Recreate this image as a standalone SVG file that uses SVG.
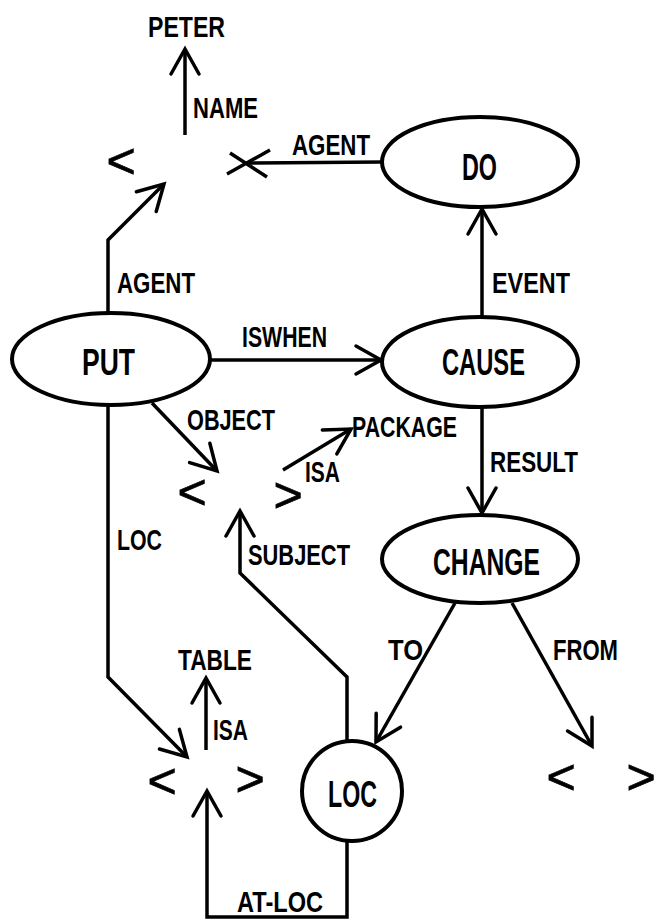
<svg xmlns="http://www.w3.org/2000/svg" width="655" height="921" viewBox="0 0 655 921">
<style>
.bg{fill:#fff}
.ln{fill:none;stroke:#000;stroke-width:3.5;stroke-linejoin:miter;stroke-linecap:butt}
.nd{fill:#fff;stroke:#000;stroke-width:4}
.el{font-family:"Liberation Sans",Arial,sans-serif;font-weight:bold;font-size:30px;fill:#000}
.nl{font-family:"Liberation Sans",Arial,sans-serif;font-weight:bold;font-size:37px;fill:#000}
.br{font-family:"Liberation Sans",Arial,sans-serif;font-weight:normal;font-size:50px;fill:#000;stroke:#000;stroke-width:0.8}
</style>
<defs>
<marker id="ah" markerUnits="userSpaceOnUse" viewBox="-30 -20 40 40" markerWidth="40" markerHeight="40" refX="0" refY="0" orient="auto" overflow="visible">
<path d="M -25 -14 L 0 0 L -25 14" fill="none" stroke="#000" stroke-width="3.5" stroke-linecap="round" stroke-linejoin="miter"/>
</marker>
</defs>
<rect class="bg" x="0" y="0" width="655" height="921"/>

<g id="connectors">
<path class="ln" d="M185 135 L185 49" marker-end="url(#ah)"/>
<path class="ln" d="M382 162 L248 163"/>
<path class="ln" d="M227 174 L270 150 M230 153 L267 177" stroke-linecap="round"/>
<path class="ln" d="M108 313 L108 240 L164 184" marker-end="url(#ah)"/>
<path class="ln" d="M482 317 L482 209" marker-end="url(#ah)"/>
<path class="ln" d="M210 360 L381 360" marker-end="url(#ah)"/>
<path class="ln" d="M482 407 L482 513" marker-end="url(#ah)"/>
<path class="ln" d="M152 403 L217 471" marker-end="url(#ah)"/>
<path class="ln" d="M283 470 L351 429" marker-end="url(#ah)"/>
<path class="ln" d="M108 405 L108 677 L187 757" marker-end="url(#ah)"/>
<path class="ln" d="M347 741 L347 677 L240 573 L240 511" marker-end="url(#ah)"/>
<path class="ln" d="M455 603 L376 742" marker-end="url(#ah)"/>
<path class="ln" d="M512 603 L592 746" marker-end="url(#ah)"/>
<path class="ln" d="M206 750 L206 678" marker-end="url(#ah)"/>
<path class="ln" d="M347 841 L347 917 L207 917 L207 791" marker-end="url(#ah)"/>
<text class="el" x="193" y="118" textLength="65" lengthAdjust="spacingAndGlyphs">NAME</text>
<text class="el" x="292" y="155" textLength="78" lengthAdjust="spacingAndGlyphs">AGENT</text>
<text class="el" x="117" y="293" textLength="78" lengthAdjust="spacingAndGlyphs">AGENT</text>
<text class="el" x="492" y="293" textLength="78" lengthAdjust="spacingAndGlyphs">EVENT</text>
<text class="el" x="242" y="347" textLength="85" lengthAdjust="spacingAndGlyphs">ISWHEN</text>
<text class="el" x="187" y="430" textLength="88" lengthAdjust="spacingAndGlyphs">OBJECT</text>
<text class="el" x="305" y="482" textLength="35" lengthAdjust="spacingAndGlyphs">ISA</text>
<text class="el" x="490" y="472" textLength="88" lengthAdjust="spacingAndGlyphs">RESULT</text>
<text class="el" x="117" y="550" textLength="45" lengthAdjust="spacingAndGlyphs">LOC</text>
<text class="el" x="248" y="565" textLength="102" lengthAdjust="spacingAndGlyphs">SUBJECT</text>
<text class="el" x="388" y="660" textLength="35" lengthAdjust="spacingAndGlyphs">TO</text>
<text class="el" x="553" y="660" textLength="65" lengthAdjust="spacingAndGlyphs">FROM</text>
<text class="el" x="213" y="740" textLength="35" lengthAdjust="spacingAndGlyphs">ISA</text>
<text class="el" x="237" y="912" textLength="86" lengthAdjust="spacingAndGlyphs">AT-LOC</text>
</g>

<g id="peter"><text class="el" x="148" y="37" textLength="77" lengthAdjust="spacingAndGlyphs">PETER</text></g>
<g id="package"><text class="el" x="352" y="437" textLength="105" lengthAdjust="spacingAndGlyphs">PACKAGE</text></g>
<g id="table"><text class="el" x="178" y="670" textLength="74" lengthAdjust="spacingAndGlyphs">TABLE</text></g>

<g id="agent-concept"><text class="br" x="121" y="178" text-anchor="middle">&lt;</text></g>
<g id="object-concept"><text class="br" x="192" y="509" text-anchor="middle">&lt;</text><text class="br" x="288" y="512" text-anchor="middle">&gt;</text></g>
<g id="table-concept"><text class="br" x="162" y="798" text-anchor="middle">&lt;</text><text class="br" x="250" y="796" text-anchor="middle">&gt;</text></g>
<g id="from-concept"><text class="br" x="561" y="794" text-anchor="middle">&lt;</text><text class="br" x="641" y="794" text-anchor="middle">&gt;</text></g>

<g id="do"><ellipse class="nd" cx="480" cy="162" rx="98" ry="45"/><text class="nl" x="462" y="180" textLength="35" lengthAdjust="spacingAndGlyphs">DO</text></g>
<g id="put"><ellipse class="nd" cx="111" cy="359" rx="99" ry="46"/><text class="nl" x="82" y="375" textLength="53" lengthAdjust="spacingAndGlyphs">PUT</text></g>
<g id="cause"><ellipse class="nd" cx="480" cy="362" rx="98" ry="45"/><text class="nl" x="442" y="375" textLength="83" lengthAdjust="spacingAndGlyphs">CAUSE</text></g>
<g id="change"><ellipse class="nd" cx="480" cy="559" rx="98" ry="44"/><text class="nl" x="433" y="575" textLength="107" lengthAdjust="spacingAndGlyphs">CHANGE</text></g>
<g id="loc"><circle class="nd" cx="352" cy="791" r="50"/><text class="nl" x="328" y="807" textLength="49" lengthAdjust="spacingAndGlyphs">LOC</text></g>
</svg>
